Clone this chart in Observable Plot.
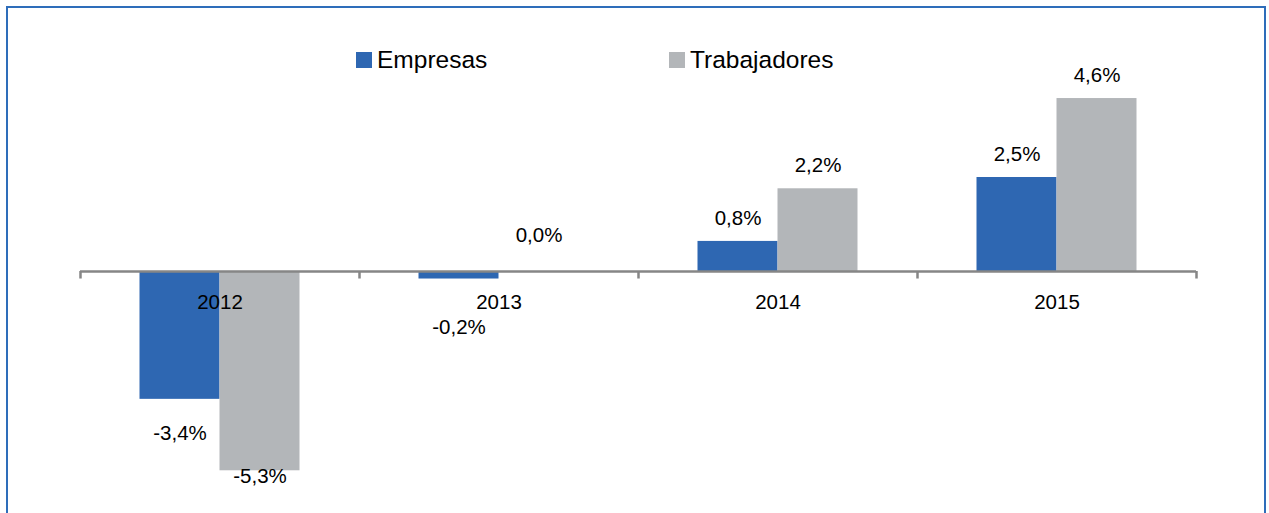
<!DOCTYPE html>
<html>
<head>
<meta charset="utf-8">
<script src="https://cdn.jsdelivr.net/npm/d3@7"></script>
<script src="https://cdn.jsdelivr.net/npm/@observablehq/plot@0.6"></script>
<style>
  html, body { margin: 0; padding: 0; background: #fff; overflow: hidden; }
  #wrap { position: relative; width: 1269px; height: 513px; font-family: "Liberation Sans", Arial, sans-serif; }
  #frame { position: absolute; left: 6px; top: 6px; width: 1260px; height: 520px; border: 2px solid #2e6dba; box-sizing: border-box; }
  #chart { position: absolute; left: 0; top: 0; }
  .leg { position: absolute; top: 45px; font-size: 24.5px; color: #000; display: flex; align-items: center; line-height: 30px; }
  .sw { width: 16px; height: 16px; margin-right: 5px; display: inline-block; }
</style>
</head>
<body>
<div id="wrap">
  <div id="frame"></div>
  <div id="chart"></div>
  <div class="leg" style="left:356px"><span class="sw" id="sw0"></span><span id="lg0"></span></div>
  <div class="leg" style="left:669px"><span class="sw" id="sw1"></span><span id="lg1"></span></div>
</div>
<script>
const years = ["2012", "2013", "2014", "2015"];
const series = ["Empresas", "Trabajadores"];
const empresas = [-3.4, -0.2, 0.8, 2.5];
const trabajadores = [-5.3, 0.0, 2.2, 4.6];
const colors = ["#2e67b2", "#b3b6b9"];

const fmt = v => v.toFixed(1).replace(".", ",") + "%";
const rows = [];
years.forEach((y, i) => {
  rows.push({year: y, series: series[0], value: empresas[i]});
  rows.push({year: y, series: series[1], value: trabajadores[i]});
});

document.getElementById("sw0").style.background = colors[0];
document.getElementById("sw1").style.background = colors[1];
document.getElementById("lg0").textContent = series[0];
document.getElementById("lg1").textContent = series[1];

const W = 1269, H = 513;
const marginLeft = 80, marginRight = 73;
const band = (W - marginLeft - marginRight) / years.length;
const barW = 80;
const outer = (band - 2 * barW) / 2;

const empRows = rows.filter(d => d.series === series[0]);
const trbRows = rows.filter(d => d.series === series[1]);
// label anchor (in value units): outside the bar end, kept clear of the category labels and inside the plot
const labelPos = v => v >= 0 ? Math.max(v + 0.62, 0.96) : Math.min(Math.max(v - 0.92, -5.45), -1.49);
const labelMarks = (data, dxOff) =>
  Plot.text(data, {x: "year", y: d => labelPos(d.value), text: d => fmt(d.value), dx: dxOff, fontSize: 20.5, fill: "#000"});

const chart = Plot.plot({
  width: W,
  height: H,
  marginLeft, marginRight,
  marginTop: 45.4,
  marginBottom: 16.4,
  style: {fontFamily: "Liberation Sans, Arial, sans-serif", background: "transparent"},
  x: {domain: years, padding: 0, axis: null},
  y: {domain: [-6, 6], axis: null},
  marks: [
    Plot.barY(empRows, {x: "year", y: "value", fill: colors[0], insetLeft: outer, insetRight: outer + barW}),
    Plot.barY(trbRows, {x: "year", y: "value", fill: colors[1], insetLeft: outer + barW, insetRight: outer}),
    Plot.ruleY([0], {stroke: "#868686", strokeWidth: 2.5}),
    Plot.ruleX(years, {x: d => d, y1: 0, y2: -0.2, dx: -band / 2, stroke: "#868686", strokeWidth: 2.5}),
    Plot.ruleX(years.slice(-1), {x: d => d, y1: 0, y2: -0.2, dx: band / 2, stroke: "#868686", strokeWidth: 2.5}),
    Plot.text(years, {x: d => d, y: () => 0, text: d => d, dy: 31, fontSize: 20.5, fill: "#000"}),
    labelMarks(empRows, -barW / 2),
    labelMarks(trbRows, barW / 2)
  ]
});
document.getElementById("chart").appendChild(chart);
</script>
</body>
</html>
